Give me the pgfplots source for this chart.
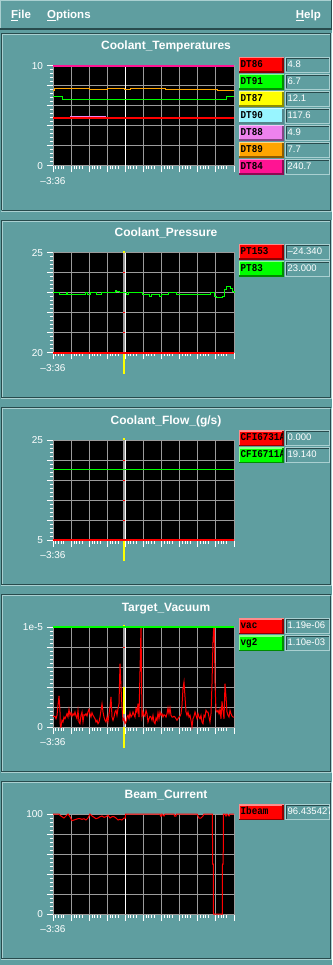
\documentclass[border=0pt]{standalone}
\usepackage{fontspec}
\setmainfont{Liberation Sans}
\newfontfamily\monofont[FakeStretch=0.88]{Liberation Mono}
\usepackage{pgfplots}
\pgfplotsset{compat=1.18}

\definecolor{bg}{RGB}{95,158,160}
\definecolor{bgdark}{RGB}{40,75,77}
\definecolor{bglight}{RGB}{170,208,209}
\definecolor{gridgray}{RGB}{155,155,155}
\definecolor{cred}{RGB}{255,0,0}
\definecolor{cgreen}{RGB}{0,255,0}
\definecolor{cyellow}{RGB}{255,255,0}
\definecolor{ccyan}{RGB}{152,245,255}
\definecolor{cviolet}{RGB}{238,130,238}
\definecolor{corange}{RGB}{255,165,0}
\definecolor{cpink}{RGB}{255,20,147}

\newcommand{\titlefont}{\fontsize{12}{14}\selectfont\bfseries}
\newcommand{\menufont}{\fontsize{11.5}{14}\selectfont\bfseries}
\newcommand{\tickfont}{\fontsize{10}{12}\selectfont}
\newcommand{\legfont}{\fontsize{10.5}{12}\selectfont\monofont\bfseries}
\newcommand{\valfont}{\fontsize{9.5}{12}\selectfont}

\pgfplotsset{
  panel/.style={
    anchor=north west, width=181pt, height=100pt, scale only axis,
    xmin=53, xmax=234, clip=false,
    axis background/.style={fill=black},
    axis line style={draw=gridgray, line width=1pt},
    xtick={53,71.3,89.3,107.3,125.3,143.3,161.7,179.7,197.7,215.7,234},
    xticklabels={},
    minor xtick={55.7,58.4,61.1,63.8,74,76.7,79.4,82.1,92,94.7,97.4,100.1,110,112.7,115.4,118.1,128,130.7,133.4,136.1,146,148.7,151.4,154.1,164.4,167.1,169.8,172.5,182.4,185.1,187.8,190.5,200.4,203.1,205.8,208.5,218.4,221.1,223.8,226.5},
    minor y tick num=4,
    grid=major, major grid style={draw=gridgray, line width=1pt},
    tick style={draw=white, line width=1pt},
    tick align=outside, tick pos=left,
    major tick length=6.5pt, minor tick length=3.5pt,
    yticklabel style={text=white, font=\tickfont},
    every axis plot/.append style={line width=1pt},
  }
}

\newcommand{\legrow}[4]{%
  \fill[#2] (238.5,#1) rectangle (283.5,{#1+16});
  \draw[#2!45!white, line width=1.5pt] (239.25,{#1+16}) -- (239.25,{#1+0.75}) -- (283.5,{#1+0.75});
  \draw[#2!55!black, line width=1.5pt] (239.25,{#1+15.25}) -- (282.75,{#1+15.25}) -- (282.75,{#1+0.75});
  \begin{scope}
    \clip (240,#1) rectangle (282.5,{#1+16});
    \node[anchor=base west, inner sep=0pt, font=\legfont, text=black] at (240.5,{#1+10.5}) {#3};
  \end{scope}
  \draw[bglight, line width=1pt] (285.5,{#1+0.5}) rectangle (329.5,{#1+15.5});
  \draw[bgdark, line width=1pt] (286.5,{#1+14.5}) -- (286.5,{#1+1.5}) -- (328.5,{#1+1.5});
  \begin{scope}
    \clip (287,#1) rectangle (329,{#1+16});
    \node[anchor=base west, inner sep=0pt, font=\valfont, text=white] at (287.5,{#1+10.5}) {#4};
  \end{scope}
}

\newcommand{\panelframe}[2]{%
  \draw[bgdark, line width=1pt] (1.5,{#2-1}) -- (1.5,#1) -- (330.5,#1);
  \draw[bglight, line width=1pt] (2.5,{#2-1}) -- (2.5,{#1+1}) -- (329.5,{#1+1});
  \draw[bglight, line width=1pt] (1,#2) -- (331.5,#2) -- (331.5,#1);
  \draw[bgdark, line width=1pt] (2,{#2-1}) -- (330.5,{#2-1}) -- (330.5,{#1+1});
}

\begin{document}
\begin{tikzpicture}[x=1pt, y=-1pt]
\path[use as bounding box] (0,0) rectangle (332,965);
\fill[bg] (0,0) rectangle (332,965);

% menu bar
\draw[bglight, line width=1pt] (0.5,29) -- (0.5,0.5) -- (331.5,0.5);
\draw[bgdark, line width=2pt] (0,29) -- (332,29);
\draw[bgdark, line width=1pt] (331.5,0) -- (331.5,29);
\node[anchor=base west, inner sep=0pt, font=\menufont, text=white] at (11,19) {\underline{F}ile};
\node[anchor=base west, inner sep=0pt, font=\menufont, text=white] at (47,19) {\underline{O}ptions};
\node[anchor=base east, inner sep=0pt, font=\menufont, text=white] at (321,19) {\underline{H}elp};

% panel frames
\panelframe{33.5}{211.5}
\panelframe{220.5}{398.5}
\panelframe{407.5}{585.5}
\panelframe{594.5}{772.5}
\panelframe{781.5}{959.5}

% titles
\node[anchor=base, inner sep=0pt, font=\titlefont, text=white] at (166,50) {Coolant\_Temperatures};
\node[anchor=base, inner sep=0pt, font=\titlefont, text=white] at (166,237) {Coolant\_Pressure};
\node[anchor=base, inner sep=0pt, font=\titlefont, text=white] at (166,424) {Coolant\_Flow\_(g/s)};
\node[anchor=base, inner sep=0pt, font=\titlefont, text=white] at (166,611) {Target\_Vacuum};
\node[anchor=base, inner sep=0pt, font=\titlefont, text=white] at (166,798) {Beam\_Current};

% ---------------- Panel 1
\begin{axis}[panel, at={(53pt,-66pt)}, ymin=0, ymax=10,
  ytick={0,2,4,6,8,10}, yticklabels={0,,,,,10}]
\draw[white, line width=1pt] (axis cs:125.3,0) -- (axis cs:125.3,10);
\addplot[const plot, corange] coordinates {(53,7.57)(54.3,7.77)(89,7.67)(107.3,7.77)(124,7.67)(130,7.77)(165.7,7.67)(217.7,7.57)(234,7.57)};
\addplot[const plot, cgreen] coordinates {(53,6.97)(62.7,6.67)(226.7,6.97)(234,6.97)};
\addplot[const plot, cviolet] coordinates {(53,4.8)(70,4.97)(105,4.8)(234,4.8)};
\addplot[cred, line width=1.5pt] coordinates {(53,4.8)(234,4.8)};
\addplot[cyellow] coordinates {(53,10)(234,10)};
\addplot[ccyan] coordinates {(53,10)(234,10)};
\addplot[cpink, line width=1.5pt] coordinates {(53,10)(234,10)};
\node[text=white, font=\tickfont, inner sep=0pt, yshift=-15pt] at (rel axis cs:0,0) {–3:36};
\end{axis}

% ---------------- Panel 2
\begin{axis}[panel, at={(53pt,-253pt)}, ymin=20, ymax=25,
  ytick={20,21,22,23,24,25}, yticklabels={20,,,,,25}]
\fill[gridgray] (axis cs:122.9,20) rectangle (axis cs:125,25);
\draw[white, line width=1pt] (axis cs:125.5,20) -- (axis cs:125.5,25);
\draw[cred, line width=1pt] (axis cs:123,21) -- (axis cs:125,21);
\draw[cred, line width=1pt] (axis cs:123,22) -- (axis cs:125,22);
\draw[cred, line width=1pt] (axis cs:123,24) -- (axis cs:125,24);
\draw[cyellow, line width=2.5pt] (axis cs:123.9,20) -- ++(0pt,-21pt);
\draw[cyellow, line width=2.5pt] (axis cs:123.9,25) -- ++(0pt,2pt);
\addplot[const plot, cgreen] coordinates {(53,23.0)(59.3,22.9)(66.7,23.0)(67.7,22.9)(85,23.0)(87.3,22.9)(90.7,23.0)(96,22.9)(101.7,23.0)(115,23.1)(116.7,23.05)(119,23.0)(126,22.9)(128.3,23.0)(142.7,22.9)(149.3,22.8)(151.7,22.9)(159.3,22.8)(161,22.9)(168.3,23.0)(176,22.9)(210,23.0)(214,22.8)(216.7,22.75)(222.7,22.8)(224,23.15)(226.7,23.3)(230,23.2)(232.7,23.05)(234,23.0)};
\addplot[cred, line width=1.5pt] coordinates {(53,20)(234,20)};
\node[text=white, font=\tickfont, inner sep=0pt, yshift=-15pt] at (rel axis cs:0,0) {–3:36};
\end{axis}

% ---------------- Panel 3
\begin{axis}[panel, at={(53pt,-440pt)}, ymin=5, ymax=25,
  ytick={5,9,13,17,21,25}, yticklabels={5,,,,,25}]
\fill[gridgray] (axis cs:122.9,5) rectangle (axis cs:125,25);
\draw[white, line width=1pt] (axis cs:125.5,5) -- (axis cs:125.5,25);
\draw[cred, line width=1pt] (axis cs:123,9) -- (axis cs:125,9);
\draw[cred, line width=1pt] (axis cs:123,13) -- (axis cs:125,13);
\draw[cred, line width=1pt] (axis cs:123,17) -- (axis cs:125,17);
\draw[cred, line width=1pt] (axis cs:123,21) -- (axis cs:125,21);
\draw[cyellow, line width=2.5pt] (axis cs:123.9,5) -- ++(0pt,-21pt);
\draw[cyellow, line width=2.5pt] (axis cs:123.9,25) -- ++(0pt,2pt);
\addplot[cgreen] coordinates {(53,19.14)(234,19.14)};
\addplot[cred, line width=1.5pt] coordinates {(53,5)(234,5)};
\node[text=white, font=\tickfont, inner sep=0pt, yshift=-15pt] at (rel axis cs:0,0) {–3:36};
\end{axis}

% ---------------- Panel 4
\begin{axis}[panel, at={(53pt,-627pt)}, ymin=0, ymax=10,
  ytick={0,2,4,6,8,10}, yticklabels={0,,,,,1e-5}]
\fill[gridgray] (axis cs:122.9,0) rectangle (axis cs:125,10);
\draw[white, line width=1pt] (axis cs:125.5,0) -- (axis cs:125.5,10);
\draw[cred, line width=1pt] (axis cs:123,4) -- (axis cs:125,4);
\draw[cred, line width=1pt] (axis cs:123,8) -- (axis cs:125,8);
\draw[cyellow, line width=2.5pt] (axis cs:123.9,0) -- ++(0pt,-21pt);
\draw[cyellow, line width=2.5pt] (axis cs:123.9,10) -- ++(0pt,2pt);
\draw[cyellow, line width=1.5pt] (axis cs:123.9,1.3) -- (axis cs:123.9,4);
\addplot[cred] coordinates {(53,1.07)(55,1.07)(56,0.83)(57,1.17)(58,2.17)(59,3.1)(60,1.5)(60.3,0)(61,0)(62,0.67)(63,0.5)(64,1.0)(65,0.83)(66,1.07)(67,1.33)(68,1.0)(69,1.77)(70,1.17)(71,1.43)(72,1.07)(73,1.33)(74,1.17)(75,1.5)(76,1.1)(77,0.83)(78,1.67)(79,0.5)(80,0.33)(81,1.17)(82,1.5)(83,0.5)(84,1.23)(85,1.17)(86,1.33)(87,1.1)(88,1.5)(89,1.77)(90,1.33)(91,1.0)(92,1.43)(93,1.17)(94,1.0)(95,0.83)(96,0.5)(97,0.67)(98,0.33)(99,0.5)(100,1.0)(101,1.67)(102,2.33)(103,1.5)(104,1.0)(105,0.67)(106,0.5)(107,1.0)(108,0.5)(109,1.33)(110,2.0)(111,3.0)(112,1.0)(113,0.67)(114,1.0)(115,1.5)(116,1.67)(117,1.17)(118,1.83)(119,2.33)(120,6.33)(121,4.0)(122,2.0)(123,0.67)(124,0.83)(125,0.33)(126,0.5)(127,1.0)(128,1.17)(129,0.83)(130,1.43)(131,1.0)(132,1.17)(133,1.5)(134,1.23)(135,1.0)(136,1.83)(137,1.5)(138,2.33)(139,1.0)(140,5.57)(141,10)(142,1.0)(143,1.5)(144,1.17)(145,1.07)(146,1.67)(147,1.33)(148,0.5)(149,0.83)(150,1.07)(151,1.0)(152,0.67)(153,1.17)(154,0.5)(155,0.33)(156,0.9)(157,0.67)(158,1.43)(159,0.83)(160,1.5)(161,1.17)(162,1.33)(163,1.0)(164,1.23)(165,1.17)(166,1.0)(167,1.33)(168,1.9)(169,1.33)(170,1.9)(171,1.17)(172,1.0)(173,1.0)(174,1.07)(175,1.0)(176,0.83)(177,0.67)(178,0.83)(179,1.0)(180,1.07)(181,1.33)(182,2.17)(183,3.83)(184,4.5)(185,3.0)(186,1.5)(187,1.17)(188,1.5)(189,1.0)(190,1.17)(191,0.67)(192,0)(193,0.83)(194,1.07)(195,1.5)(196,1.17)(197,0.83)(198,1.33)(199,1.0)(200,0.83)(201,1.17)(202,0.5)(203,0.33)(204,1.17)(205,1.0)(206,1.67)(207,1.5)(208,1.5)(209,1.0)(210,0.5)(211,1.33)(212,4.33)(213,8.5)(213.7,10)(214.3,10)(215,4.33)(216,1.67)(217,1.5)(218,1.67)(219,1.33)(220,1.77)(221,0.83)(222,2.57)(223,1.67)(224,0.83)(225,4.33)(226,3.0)(227,1.5)(228,1.17)(229,1.0)(230,1.67)(231,1.33)(232,1.1)(233,1.0)(234,1.0)};
\addplot[cgreen, line width=1.5pt] coordinates {(53,10)(234,10)};
\node[text=white, font=\tickfont, inner sep=0pt, yshift=-15pt] at (rel axis cs:0,0) {–3:36};
\end{axis}

% ---------------- Panel 5
\begin{axis}[panel, at={(53pt,-814pt)}, ymin=0, ymax=100,
  ytick={0,20,40,60,80,100}, yticklabels={0,,,,,100}]
\draw[white, line width=1pt] (axis cs:125.3,0) -- (axis cs:125.3,100);
\addplot[cred] coordinates {(53,100)(59,100)(60,98.7)(62,97.3)(64,96)(66,98)(68,100)(70,97.3)(72,93.3)(74,94)(76,94.7)(78,95.3)(80,95.3)(82,94.7)(84,95.3)(86,94)(88,96)(90,100)(92,98)(94,96.7)(96,95.3)(98,96)(100,97.3)(102,98)(104,96.7)(106,97.3)(108,98.7)(110,96)(112,97.3)(114,97.3)(116,96)(118,94)(120,94.7)(122,94)(124,96)(125.3,96)(125.6,100)(160,100)(160.5,98)(161.5,98)(162,100)(164,98)(165,100)(174,100)(174.5,98)(176,98)(176.5,100)(197,100)(198,98)(199,96)(201,96)(203,98)(204,100)(212.4,100)(212.6,50)(213.3,50)(213.5,0)(222.3,0)(222.5,50)(223.2,50)(223.4,100)(225,100)(226,98)(227,100)(229,98)(230,100)(234,100)};
\node[text=white, font=\tickfont, inner sep=0pt, yshift=-15pt] at (rel axis cs:0,0) {–3:36};
\end{axis}

% legends
\legrow{57}{cred}{DT86}{4.8}
\legrow{74}{cgreen}{DT91}{6.7}
\legrow{91}{cyellow}{DT87}{12.1}
\legrow{108}{ccyan}{DT90}{117.6}
\legrow{125}{cviolet}{DT88}{4.9}
\legrow{142}{corange}{DT89}{7.7}
\legrow{159}{cpink}{DT84}{240.7}

\legrow{244}{cred}{PT153}{–24.340}
\legrow{261}{cgreen}{PT83}{23.000}

\legrow{430}{cred}{CFI6731A}{0.000}
\legrow{447}{cgreen}{CFI6711A}{19.140}

\legrow{618}{cred}{vac}{1.19e-06}
\legrow{635}{cgreen}{vg2}{1.10e-03}

\legrow{804}{cred}{Ibeam}{96.435427}
\end{tikzpicture}
\end{document}
